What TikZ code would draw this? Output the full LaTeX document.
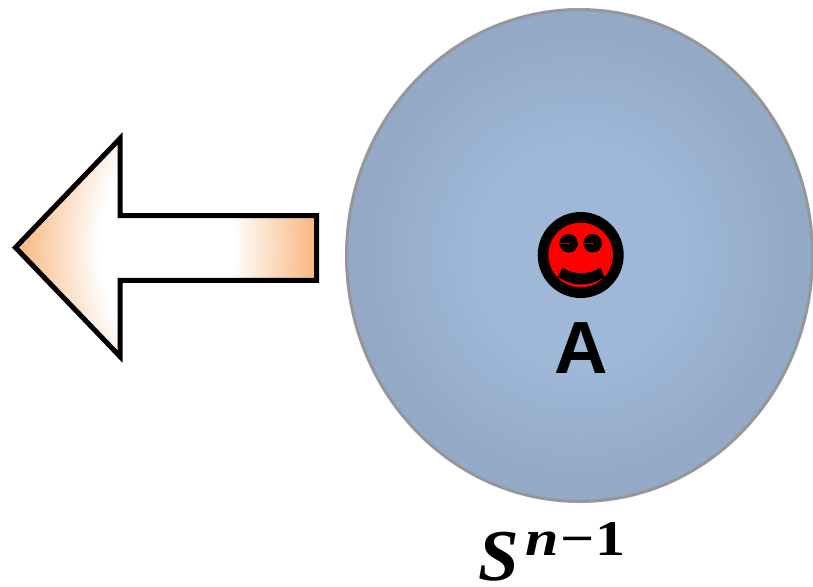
\documentclass[tikz,border=0pt]{standalone}
\usepackage{fontspec}
\usepackage{graphicx}
\setmainfont{Liberation Sans}
\newfontfamily\mathlike{Liberation Serif}
\definecolor{discin}{HTML}{9FB8D8}
\definecolor{discout}{HTML}{93A9C6}
\definecolor{glow}{HTML}{F7B57C}
\definecolor{eyered}{HTML}{B00000}
\pgfdeclareradialshading{discshade}{\pgfpoint{0bp}{0bp}}{color(0bp)=(discin); color(11bp)=(discin); color(23bp)=(discout); color(50bp)=(discout)}
\pgfdeclareradialshading{arrowshade}{\pgfpoint{0bp}{0bp}}{color(0bp)=(white); color(11bp)=(white); color(25bp)=(glow); color(50bp)=(glow)}
\tikzset{
  arrowline/.style={draw=black,line width=5pt,miter limit=10},
  facepart/.style={fill=black},
}
\begin{document}
\begin{tikzpicture}[x=1pt,y=-1pt]
\useasboundingbox (0,0) rectangle (813,586);
% disc
\shade[shading=discshade] (579.5,255.5) ellipse [x radius=234,y radius=247];
\draw[draw=gray!85,line width=3pt,opacity=.85] (579.5,255.5) ellipse [x radius=233,y radius=246];
% arrow
\begin{scope}
\clip (15.5,247.5) -- (120,138.5) -- (120,215.7) -- (316.7,215.7) -- (316.7,280.3) -- (120,280.3) -- (120,356.5) -- cycle;
\shade[shading=arrowshade] (166,247.5) ellipse [x radius=151,y radius=240];
\end{scope}
\draw[arrowline] (15.5,247.5) -- (120,138.5) -- (120,215.7) -- (316.7,215.7) -- (316.7,280.3) -- (120,280.3) -- (120,356.5) -- cycle;
% face
\fill[black] (580.7,255) circle [radius=43];
\fill[red] (580.7,255) circle [radius=32.3];
\fill[facepart] (568.7,243.3) circle [radius=9.3];
\fill[facepart] (592.7,243.3) circle [radius=9.3];
\draw[eyered,line width=.3pt] (559.5,243.3) -- (568.7,243.3);
\draw[eyered,line width=.3pt] (583.5,243.3) -- (592.7,243.3);
\fill[red] (568.7,243.6) circle [radius=.9];
\fill[red] (592.7,243.6) circle [radius=.9];
\fill[facepart] (562.7,267.7) .. controls (574,275.2) and (588,275.2) .. (600.3,267.7) -- (604.3,277) .. controls (590,287) and (572,287) .. (557.7,276.7) -- cycle;
% labels
\node[inner sep=0pt,anchor=center] (lblA) at (581.5,348) {\fontsize{74}{80}\selectfont\bfseries A};
\node[inner sep=0pt,anchor=base west] (lblS) at (478,580.5) {\mathlike\bfseries\fontsize{73}{80}\selectfont\itshape S\hspace{7pt}\raisebox{25pt}{\scalebox{1.2}[1]{\fontsize{50}{60}\selectfont n\hspace{1pt}\upshape−\hspace{1pt}1}}};
\end{tikzpicture}
\end{document}
